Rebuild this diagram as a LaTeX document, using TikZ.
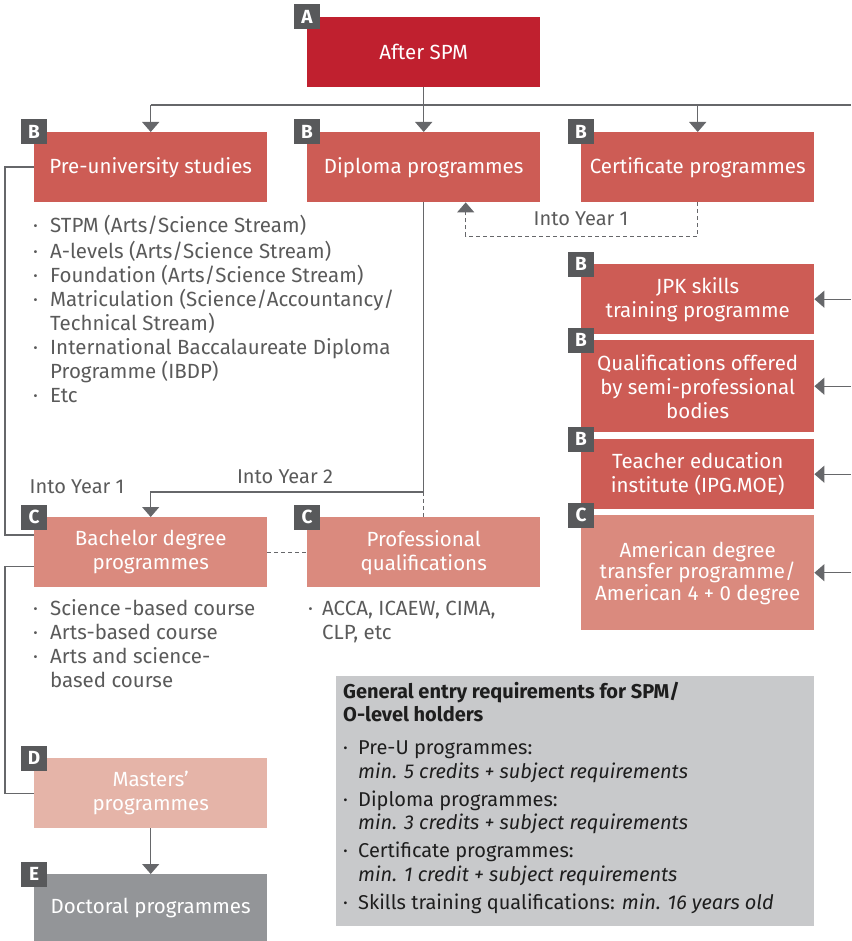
\documentclass[tikz,border=0pt]{standalone}
\usepackage{fontspec}
\setmainfont{Fira Sans}
\usetikzlibrary{arrows.meta,calc}

\definecolor{levelA}{HTML}{C0202F}
\definecolor{levelB}{HTML}{CD5C55}
\definecolor{levelC}{HTML}{DA8A7E}
\definecolor{levelD}{HTML}{E5B4A8}
\definecolor{levelE}{HTML}{939598}
\definecolor{tagfill}{HTML}{58595B}
\definecolor{linegrey}{HTML}{66676A}
\definecolor{listgrey}{HTML}{5A5A5A}
\definecolor{panelgrey}{HTML}{C8C9CB}
\definecolor{paneltext}{HTML}{1E1E1E}

% bullet and continuation indent for the lists
\newcommand\itm{\makebox[17pt][l]{·}}
\newcommand\cont{\hspace*{17pt}}
\newcommand\itmp{\makebox[14pt][l]{·}}
\newcommand\contp{\hspace*{14pt}}
\newcommand\itmr{\makebox[15pt][l]{·}}
\newcommand\contr{\hspace*{15pt}}

\begin{document}
\begin{tikzpicture}[x=1pt,y=-1pt,
  prog/.style={rectangle, anchor=north west, minimum width=233pt,
    minimum height=70pt, inner sep=0pt, text=white, align=center,
    font=\fontsize{20.5}{24}\selectfont},
  tag/.style={rectangle, fill=tagfill, text=white, minimum width=26pt,
    minimum height=25pt, inner sep=0pt,
    font=\fontsize{19}{19}\selectfont\bfseries},
  listtext/.style={anchor=north west, inner sep=0pt, align=left,
    text=listgrey, font=\fontsize{20.5}{24}\selectfont},
  yearlabel/.style={inner sep=0pt, text=listgrey,
    font=\fontsize{20}{24}\selectfont},
  conn/.style={draw=linegrey, line width=1.4pt},
  flow/.style={conn, -{Triangle[width=17pt,length=10pt]}},
  dashedflow/.style={conn, dash pattern=on 4pt off 3pt,
    -{Triangle[width=17pt,length=10pt]}},
  dashedlink/.style={conn, dash pattern=on 4pt off 3pt}
]
\useasboundingbox (0,0) rectangle (851,941);

% ---- programme boxes ----
\node[prog, fill=levelA] (spm)  at (307,17)  {After SPM};
\node[prog, fill=levelB] (pu)   at (34,132)  {Pre-university studies};
\node[prog, fill=levelB] (dip)  at (307,132) {Diploma programmes};
\node[prog, fill=levelB] (cert) at (581,132) {Certificate programmes};
\node[prog, fill=levelB] (jpk)  at (581,264) {JPK skills\\training programme};
\node[prog, fill=levelB, minimum height=92pt] (semi) at (581,340)
  {Qualifications offered\\by semi-professional\\bodies};
\node[prog, fill=levelB] (ipg)  at (581,439) {Teacher education\\institute (IPG.MOE)};
\node[prog, fill=levelC, minimum height=115pt,
  font=\fontsize{20.5}{21.5}\selectfont] (amer) at (581,515)
  {American degree\\transfer programme/\\American 4 + 0 degree};
\node[prog, fill=levelC] (bach) at (34,517)  {Bachelor degree\\programmes};
\node[prog, fill=levelC] (prof) at (307,517) {Professional\\qualifications};
\node[prog, fill=levelD] (mast) at (34,758)  {Masters’\\programmes};
\node[prog, fill=levelE, minimum height=67pt] (doc) at (34,874) {Doctoral programmes};

% ---- level tags ----
\node[tag] (tagA)    at (spm.north west)  {A};
\node[tag] (tagpu)   at (pu.north west)   {B};
\node[tag] (tagdip)  at (dip.north west)  {B};
\node[tag] (tagcert) at (cert.north west) {B};
\node[tag] (tagjpk)  at (jpk.north west)  {B};
\node[tag] (tagsemi) at (semi.north west) {B};
\node[tag] (tagipg)  at (ipg.north west)  {B};
\node[tag] (tagamer) at (amer.north west) {C};
\node[tag] (tagbach) at (bach.north west) {C};
\node[tag] (tagprof) at (prof.north west) {C};
\node[tag] (tagmast) at (mast.north west) {D};
\node[tag] (tagdoc)  at (doc.north west)  {E};

% ---- course lists ----
\node[listtext] (pulist) at (33,215.2) {\strut\itm STPM (Arts/Science Stream)\\
  \itm A-levels (Arts/Science Stream)\\
  \itm Foundation (Arts/Science Stream)\\
  \itm Matriculation (Science/Accountancy/\\
  \cont Technical Stream)\\
  \itm International Baccalaureate Diploma\\
  \cont Programme (IBDP)\\
  \itm Etc};
\node[listtext] (bachlist) at (33,598) {\strut\itm Science\thinspace-based course\\
  \itm Arts-based course\\
  \itm Arts and science-\\
  \cont based course};
\node[listtext] (proflist) at (308,598) {\strut\itmp ACCA, ICAEW, CIMA,\\
  \contp CLP, etc};

% ---- entry requirements panel ----
\node[rectangle, fill=panelgrey, anchor=north west, minimum width=478pt,
  minimum height=250pt, inner sep=0pt] (req) at (336,676) {};
\node[listtext, text=paneltext, font=\fontsize{20}{23.5}\selectfont]
  (reqtext) at (343,681.5) {\strut\textbf{General entry requirements for SPM/}\\
  \textbf{O-level holders}\\[9.5pt]
  \itmr Pre-U programmes:\\
  \contr\textit{min. 5 credits + subject requirements}\\[4.5pt]
  \itmr Diploma programmes:\\
  \contr\textit{min. 3 credits + subject requirements}\\[4.5pt]
  \itmr Certificate programmes:\\
  \contr\textit{min. 1 credit + subject requirements}\\[4.5pt]
  \itmr Skills training qualifications: \textit{min. 16 years old}};

% ---- route labels ----
\node[yearlabel] (lblpu)   at (77,487)  {Into Year 1};
\node[yearlabel] (lbldip)  at (285,477) {Into Year 2};
\node[yearlabel] (lblcert) at (581,219) {Into Year 1};

% ---- connectors from After SPM ----
\coordinate (busL) at (pu.north |- 0,105);
\coordinate (busR) at (851,105);
\draw[conn] (spm.south) -- (spm.south |- busL);
\draw[conn] (busL) -- (busR);
\draw[flow] (busL) -- (pu.north);
\draw[flow] (dip.north |- busL) -- (dip.north);
\draw[flow] (cert.north |- busL) -- (cert.north);

% incoming routes on the right edge
\draw[flow] (jpk.east -| busR)  -- (jpk.east);
\draw[flow] (semi.east -| busR) -- (semi.east);
\draw[flow] (ipg.east -| busR)  -- (ipg.east);
\draw[flow] (amer.east -| busR) -- (amer.east);

% certificate -> diploma (into year 1)
\coordinate (dipin) at ($(dip.south)+(42,0)$);
\draw[dashedflow] (cert.south) -- ++(0,34) -| (dipin);

% pre-university -> bachelor (into year 1)
\coordinate (bachin) at ($(bach.north west)+(0,18)$);
\draw[conn] (pu.west) -- ++(-29,0) |- (bachin);

% diploma -> bachelor (into year 2), diploma -> professional
\coordinate (split) at (dip.south |- 0,492);
\draw[flow] (dip.south) -- (split) -| (bach.north);
\draw[dashedlink] (split) -- (prof.north);
\draw[dashedlink] (bach.east) -- (prof.west);

% bachelor -> masters -> doctoral
\coordinate (bachout) at ($(bach.west)+(0,14)$);
\draw[conn] (bachout) -- ++(-29,0) |- (mast.west);
\draw[flow] (mast.south) -- (doc.north);
\end{tikzpicture}
\end{document}
